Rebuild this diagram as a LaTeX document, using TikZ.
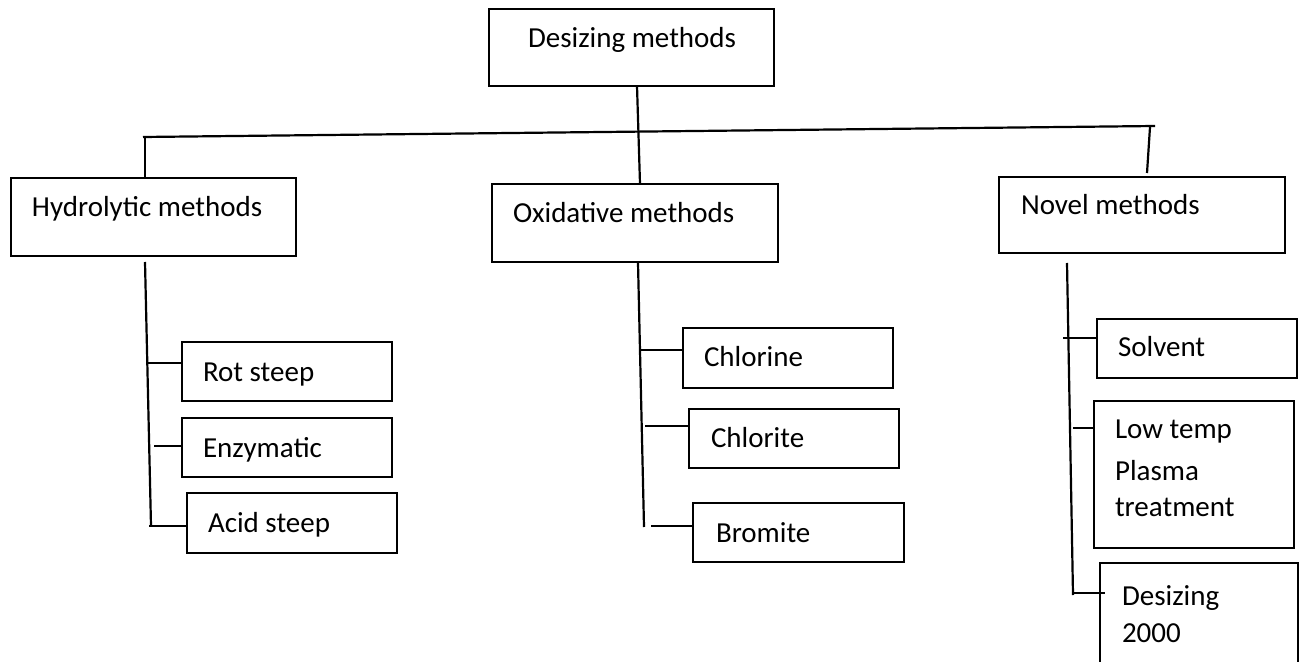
\documentclass[tikz,border=0pt]{standalone}
\usepackage{fontspec}
\setmainfont{Carlito}
\begin{document}
\begin{tikzpicture}[x=0.5pt,y=-0.5pt,
  box/.style={draw, line width=1.1pt, inner sep=0pt, outer sep=0pt, anchor=north west},
  lbl/.style={inner sep=0pt, outer sep=0pt, anchor=base west, font=\fontsize{14.5pt}{17pt}\selectfont},
  conn/.style={line width=1.1pt}]
\clip (0,0) rectangle (1299,662);
\fill[white] (0,0) rectangle (1299,662);

% boxes
\node[box, minimum width=142.5pt, minimum height=38.5pt] (T) at (489,9) {};
\node[box, minimum width=142.5pt, minimum height=39pt] (H) at (11,178) {};
\node[box, minimum width=143pt, minimum height=39pt] (O) at (492,184) {};
\node[box, minimum width=143pt, minimum height=38pt] (N) at (999,177) {};
\node[box, minimum width=105pt, minimum height=29.5pt] (rot) at (182,342) {};
\node[box, minimum width=105pt, minimum height=29.5pt] (enz) at (182,418) {};
\node[box, minimum width=105pt, minimum height=30pt] (acid) at (187,493) {};
\node[box, minimum width=105pt, minimum height=30pt] (chlorine) at (683,328) {};
\node[box, minimum width=105pt, minimum height=29.5pt] (chlorite) at (689,409) {};
\node[box, minimum width=105.5pt, minimum height=29.5pt] (bromite) at (693,503) {};
\node[box, minimum width=100pt, minimum height=29.5pt] (solvent) at (1097,319) {};
\node[box, minimum width=100pt, minimum height=73.5pt] (plasma) at (1094,401) {};
\node[box, minimum width=99pt, minimum height=60pt] (d2000) at (1100,563) {};

% labels
\node[lbl] (Tt) at (528,48) {Desizing methods};
\node[lbl] (Ht) at (32,217) {Hydrolytic methods};
\node[lbl] (Ot) at (513,223) {Oxidative methods};
\node[lbl] (Nt) at (1021,215) {Novel methods};
\node[lbl] (rott) at (203,381) {Rot steep};
\node[lbl] (enzt) at (203,457) {Enzymatic};
\node[lbl] (acidt) at (208,532) {Acid steep};
\node[lbl] (chlorinet) at (704,366) {Chlorine};
\node[lbl] (chloritet) at (711,447) {Chlorite};
\node[lbl] (bromitet) at (716,542) {Bromite};
\node[lbl] (solventt) at (1118,357) {Solvent};
\node[lbl] (plasma1) at (1115,438) {Low temp};
\node[lbl] (plasma2) at (1115,480) {Plasma};
\node[lbl] (plasma3) at (1115,516) {treatment};
\node[lbl] (d2000a) at (1122,605) {Desizing};
\node[lbl] (d2000b) at (1122,642) {2000};

% top level connectors
\coordinate (busL) at (143,137);
\coordinate (busR) at (1155,126);
\draw[conn] (busL) -- (busR);
\coordinate (tdrop) at (637,86);
\coordinate (odrop) at (640,184);
\draw[conn] (tdrop) -- (odrop);
\coordinate (hdrop) at (145,137);
\draw[conn] (hdrop) -- (hdrop |- H.north);
\coordinate (ndropA) at (1150,127);
\coordinate (ndropB) at (1147,173);
\draw[conn] (ndropA) -- (ndropB);

% hydrolytic branch
\coordinate (hs1) at (145,262);
\coordinate (hs2) at (151,526);
\draw[conn] (hs1) -- (hs2);
\coordinate (c_rot) at (148,363);
\draw[conn] (c_rot) -- (c_rot -| rot.west);
\coordinate (c_enz) at (154,446);
\draw[conn] (c_enz) -- (c_enz -| enz.west);
\coordinate (c_acid) at (149,526);
\draw[conn] (c_acid) -- (c_acid -| acid.west);

% oxidative branch
\coordinate (os1) at (638,263);
\coordinate (os2) at (644,527);
\draw[conn] (os1) -- (os2);
\coordinate (c_chlorine) at (640,350);
\draw[conn] (c_chlorine) -- (c_chlorine -| chlorine.west);
\coordinate (c_chlorite) at (645,426);
\draw[conn] (c_chlorite) -- (c_chlorite -| chlorite.west);
\coordinate (c_bromite) at (651,526);
\draw[conn] (c_bromite) -- (c_bromite -| bromite.west);

% novel branch
\coordinate (ns1) at (1067,263);
\coordinate (ns2) at (1073,595);
\draw[conn] (ns1) -- (ns2);
\coordinate (c_solvent) at (1063,338);
\draw[conn] (c_solvent) -- (c_solvent -| solvent.west);
\coordinate (c_plasma) at (1073,428);
\draw[conn] (c_plasma) -- (c_plasma -| plasma.west);
\coordinate (c_d2000) at (1073,593);
\coordinate (c_d2000e) at (1105,593);
\draw[conn] (c_d2000) -- (c_d2000e);
\end{tikzpicture}
\end{document}
